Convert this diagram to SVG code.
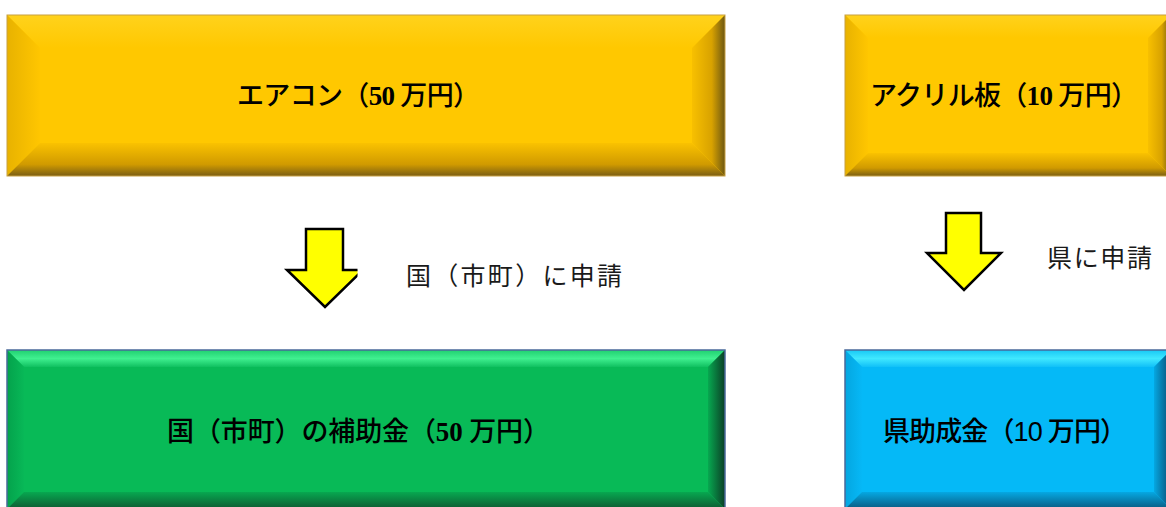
<svg xmlns="http://www.w3.org/2000/svg" width="1166" height="507" viewBox="0 0 1166 507">
<style>
.lbl{font-family:"Liberation Serif","Noto Sans CJK JP",serif;font-size:27px;font-weight:500;fill:#000;dominant-baseline:central}
.num{font-weight:bold}
.sans{font-family:"Liberation Sans","Noto Sans CJK JP",sans-serif;font-weight:normal}
.side{font-family:"Noto Sans CJK JP","Liberation Sans",sans-serif;font-size:25px;fill:#1a1a1a;dominant-baseline:central}
.arrow{fill:#FFFF00;stroke:#000;stroke-width:2.5;stroke-linejoin:miter}
</style>
<defs>
<linearGradient id="yT" x1="0" y1="0" x2="0" y2="1"><stop offset="0" stop-color="#FFD21C"/><stop offset="1" stop-color="#FFC800"/></linearGradient>
<linearGradient id="yL" x1="0" y1="0" x2="1" y2="0"><stop offset="0" stop-color="#E8B200"/><stop offset="1" stop-color="#FFC600"/></linearGradient>
<linearGradient id="yR" x1="0" y1="0" x2="1" y2="0"><stop offset="0" stop-color="#F8C000"/><stop offset="0.6" stop-color="#D8A200"/><stop offset="1" stop-color="#6E5812"/></linearGradient>
<linearGradient id="yB" x1="0" y1="0" x2="0" y2="1"><stop offset="0" stop-color="#FAC200"/><stop offset="0.65" stop-color="#D09A00"/><stop offset="1" stop-color="#7A5E14"/></linearGradient>
<linearGradient id="gT" x1="0" y1="0" x2="0" y2="1"><stop offset="0" stop-color="#20D070"/><stop offset="0.5" stop-color="#40F090"/><stop offset="1" stop-color="#10C060"/></linearGradient>
<linearGradient id="gL" x1="0" y1="0" x2="1" y2="0"><stop offset="0" stop-color="#04A24C"/><stop offset="1" stop-color="#08B857"/></linearGradient>
<linearGradient id="gR" x1="0" y1="0" x2="1" y2="0"><stop offset="0" stop-color="#07A850"/><stop offset="1" stop-color="#0B3E26"/></linearGradient>
<linearGradient id="gB" x1="0" y1="0" x2="0" y2="1"><stop offset="0" stop-color="#07A850"/><stop offset="1" stop-color="#0E5A32"/></linearGradient>
<linearGradient id="bT" x1="0" y1="0" x2="0" y2="1"><stop offset="0" stop-color="#18C8F5"/><stop offset="0.5" stop-color="#40E8FF"/><stop offset="1" stop-color="#10C0F8"/></linearGradient>
<linearGradient id="bL" x1="0" y1="0" x2="1" y2="0"><stop offset="0" stop-color="#04A6E0"/><stop offset="1" stop-color="#06B8F6"/></linearGradient>
<linearGradient id="bR" x1="0" y1="0" x2="1" y2="0"><stop offset="0" stop-color="#05A8E2"/><stop offset="1" stop-color="#0A4A70"/></linearGradient>
<linearGradient id="bB" x1="0" y1="0" x2="0" y2="1"><stop offset="0" stop-color="#05A8E2"/><stop offset="1" stop-color="#0A5A80"/></linearGradient>
<clipPath id="clipA"><rect x="270" y="200" width="87.5" height="120"/></clipPath>
</defs>

<g id="node-aircon">
<rect x="7" y="15" width="718" height="161" fill="#FFC800"/>
<polygon points="7,15 725,15 692,48 40,48" fill="url(#yT)"/>
<polygon points="7,15 40,48 40,143 7,176" fill="url(#yL)"/>
<polygon points="725,15 725,176 692,143 692,48" fill="url(#yR)"/>
<polygon points="7,176 725,176 692,143 40,143" fill="url(#yB)"/>
<rect x="7" y="15" width="718" height="161" fill="none" stroke="#C8A040" stroke-width="1"/>
<text class="lbl" x="237" y="96" textLength="243" lengthAdjust="spacing">エアコン（<tspan class="num">50</tspan> 万円）</text>
</g>

<g id="node-acrylic">
<rect x="845" y="15" width="326" height="161" fill="#FFC800"/>
<polygon points="845,15 1171,15 1148,38 868,38" fill="url(#yT)"/>
<polygon points="845,15 868,38 868,153 845,176" fill="url(#yL)"/>
<polygon points="1171,15 1171,176 1148,153 1148,38" fill="url(#yR)"/>
<polygon points="845,176 1171,176 1148,153 868,153" fill="url(#yB)"/>
<rect x="845" y="15" width="326" height="161" fill="none" stroke="#C8A040" stroke-width="1"/>
<text class="lbl" x="870" y="96" textLength="268" lengthAdjust="spacing">アクリル板（<tspan class="num">10</tspan> 万円）</text>
</g>

<g id="node-kuni">
<rect x="7" y="350" width="718" height="159" fill="#08BA57"/>
<polygon points="7,350 725,350 708,367 24,367" fill="url(#gT)"/>
<polygon points="7,350 24,367 24,492 7,509" fill="url(#gL)"/>
<polygon points="725,350 725,509 708,492 708,367" fill="url(#gR)"/>
<polygon points="7,509 725,509 708,492 24,492" fill="url(#gB)"/>
<rect x="7" y="350" width="718" height="159" fill="none" stroke="#4A6A9A" stroke-width="1.5"/>
<text class="lbl" x="167" y="431.5" textLength="383" lengthAdjust="spacing">国（市町）の補助金（<tspan class="num">50</tspan> 万円）</text>
</g>

<g id="node-ken">
<rect x="845" y="350" width="326" height="159" fill="#05B9F7"/>
<polygon points="845,350 1171,350 1154,367 862,367" fill="url(#bT)"/>
<polygon points="845,350 862,367 862,492 845,509" fill="url(#bL)"/>
<polygon points="1171,350 1171,509 1154,492 1154,367" fill="url(#bR)"/>
<polygon points="845,509 1171,509 1154,492 862,492" fill="url(#bB)"/>
<rect x="845" y="350" width="326" height="159" fill="none" stroke="#4A6A9A" stroke-width="1.5"/>
<text class="lbl" x="883" y="431.5" textLength="244" lengthAdjust="spacing">県助成金（<tspan class="sans">10</tspan> 万円）</text>
</g>

<g id="connectors">
<g clip-path="url(#clipA)">
<polygon class="arrow" points="306,229 343,229 343,270 363,270 325,307 287,270 306,270"/>
</g>
<polygon class="arrow" points="946,213 981,213 981,253 1001,253 964,290 927,253 946,253"/>
<text class="side" x="406" y="273.5" textLength="216" lengthAdjust="spacing">国（市町）に申請</text>
<text class="side" x="1047" y="256" textLength="105" lengthAdjust="spacing">県に申請</text>
</g>
</svg>
